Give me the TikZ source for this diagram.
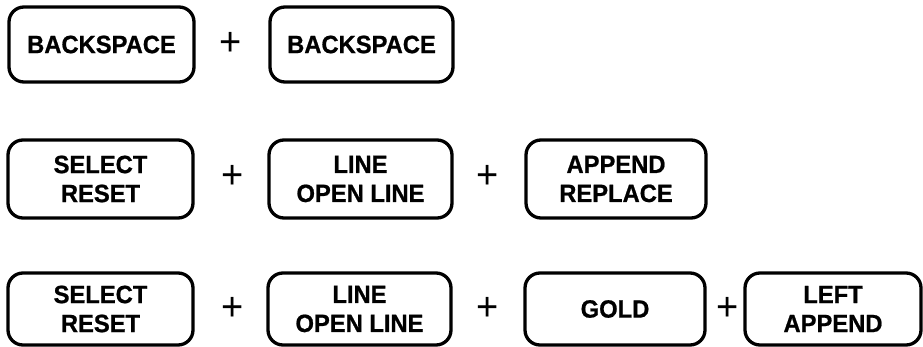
\documentclass[tikz,border=0pt]{standalone}
\usepackage{fontspec}
\setmainfont{Liberation Sans}[FakeStretch=0.95, BoldFeatures={FakeBold=0.8}]
\begin{document}
\begin{tikzpicture}[x=1pt,y=-1pt,
  keybox/.style={draw, line width=3.3pt, rounded corners=15pt, inner sep=0pt,
    align=center, font=\bfseries\fontsize{25}{29}\selectfont},
  plussign/.style={inner sep=0pt, font=\fontsize{40}{40}\selectfont}]
\useasboundingbox (0,0) rectangle (923,347);
% row 1
\node[keybox, minimum width=185pt, minimum height=75pt] (a1) at (101.5,44.5) {BACKSPACE};
\node[plussign] (p1) at (231,44) {+};
\node[keybox, minimum width=183pt, minimum height=75pt] (a2) at (361.5,44.5) {BACKSPACE};
% row 2
\node[keybox, minimum width=185pt, minimum height=78pt] (b1) at (100.5,179) {SELECT\\RESET};
\node[plussign] (q1) at (233,177) {+};
\node[keybox, minimum width=183pt, minimum height=78pt] (b2) at (360.5,179) {LINE\\OPEN LINE};
\node[plussign] (q2) at (488,177) {+};
\node[keybox, minimum width=180pt, minimum height=78pt] (b3) at (616,179) {APPEND\\REPLACE};
% row 3
\node[keybox, minimum width=185pt, minimum height=72pt] (c1) at (100.5,309) {SELECT\\RESET};
\node[plussign] (r1) at (233,309) {+};
\node[keybox, minimum width=183pt, minimum height=72pt] (c2) at (359.5,309) {LINE\\OPEN LINE};
\node[plussign] (r2) at (488,309) {+};
\node[keybox, minimum width=180pt, minimum height=72pt] (c3) at (615,309) {GOLD};
\node[plussign] (r3) at (728,309) {+};
\node[keybox, minimum width=176pt, minimum height=72pt] (c4) at (833,309) {LEFT\\APPEND};
\end{tikzpicture}
\end{document}
